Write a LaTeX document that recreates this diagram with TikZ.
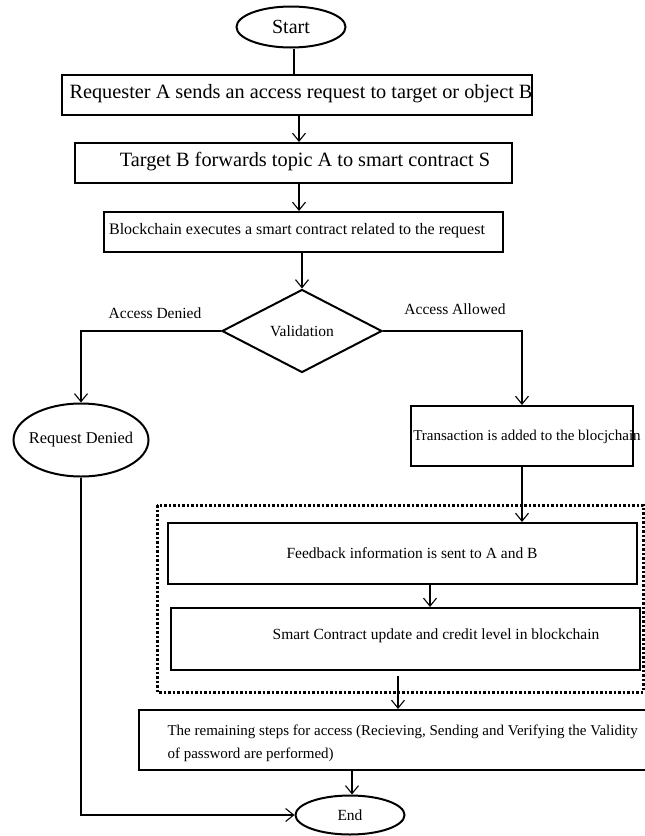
\documentclass[tikz,border=0pt]{standalone}
\usepackage{fontspec}
\setmainfont{Liberation Serif}
\usetikzlibrary{shapes.geometric,arrows.meta}

\begin{document}
\begin{tikzpicture}[
        x=1pt, y=-1pt,
        every node/.style={font=\fontsize{15.5}{19}\selectfont},
        terminal/.style={ellipse, draw, line width=2pt, inner sep=0pt},
        box/.style={rectangle, draw, line width=2pt, inner sep=0pt},
        decision/.style={diamond, draw, line width=2pt, inner sep=0pt,
            minimum width=160pt, minimum height=83pt},
        bigtext/.style={font=\fontsize{20.3}{23}\selectfont},
        flow/.style={line width=1.1pt, -{Straight Barb[length=8pt,width=13pt]}},
        plain/.style={line width=1.1pt},
        group/.style={line width=3pt, dash pattern=on 2.5pt off 2pt}
    ]

    \useasboundingbox (0,0) rectangle (645,836);

    \node[terminal, minimum width=109pt, minimum height=41pt,
        font=\fontsize{20}{22}\selectfont] (start) at (291,27) {Start};

    \node[box, minimum width=470pt, minimum height=40pt] (req) at (297,95) {};
    \node[bigtext] (reqtext) at (301,94) {Requester A sends an access request to target or object B};

    \node[box, minimum width=437pt, minimum height=40pt] (fwd) at (293.5,163) {};
    \node[bigtext] (fwdtext) at (305,162) {Target B forwards topic A to smart contract S};

    \node[box, minimum width=399pt, minimum height=40pt] (exec) at (303.5,232) {};
    \node[font=\fontsize{16}{19}\selectfont] (exectext) at (297,231) {Blockchain executes a smart contract related to the request};

    \node[decision] (val) at (302,331) {Validation};
    \node (denied) at (155,313) {Access Denied};
    \node (allowed) at (455,309) {Access Allowed};

    \node[terminal, minimum width=135pt, minimum height=73pt] (reqden) at (81,440) {};
    \node[font=\fontsize{16.4}{19}\selectfont] (reqdentext) at (81,440) {Request Denied};

    \node[box, minimum width=222pt, minimum height=60pt] (trans) at (522,436) {};
    \node[font=\fontsize{15}{18}\selectfont] (transtext) at (527,437) {Transaction is added to the blocjchain};

    \draw[group] (157,505) rectangle (643,692);

    \node[box, minimum width=469pt, minimum height=61pt] (feed) at (402.5,553.5) {};
    \node (feedtext) at (412,553) {Feedback information is sent to A and B};

    \node[box, minimum width=469pt, minimum height=62pt] (smart) at (405.5,639) {};
    \node (smarttext) at (436,636) {Smart Contract update and credit level in blockchain};

    \node[box, minimum width=509pt, minimum height=60pt] (remain) at (393.5,740) {};
    \node[anchor=west, align=left, font=\fontsize{15}{23}\selectfont] (remaintext) at (164,743)
        {The remaining steps for access (Recieving, Sending and Verifying the Validity\\of password are performed)};

    \node[terminal, minimum width=109pt, minimum height=39pt] (end) at (350,815) {End};

    \coordinate (colA) at (294,0);
    \coordinate (colB) at (299,0);
    \coordinate (colC) at (430,0);
    \coordinate (colD) at (398,0);
    \coordinate (colE) at (352,0);

    \draw[plain] (start.south -| colA) -- (req.north -| colA);
    \draw[flow] (req.south -| colB) -- (fwd.north -| colB);
    \draw[flow] (fwd.south -| colB) -- (exec.north -| colB);
    \draw[flow] (exec.south -| val.north) -- (val.north);
    \draw[flow] (val.west) -| (reqden.north);
    \draw[flow] (val.east) -| (trans.north);
    \draw[flow] (trans.south) -- (trans.south |- feed.north);
    \draw[flow] (feed.south -| colC) -- (smart.north -| colC);
    \draw[flow] ([yshift=-5pt]smart.south -| colD) -- (remain.north -| colD);
    \draw[flow] (remain.south -| colE) -- (end.north -| colE);
    \draw[flow] (reqden.south) |- (end.west);
\end{tikzpicture}
\end{document}
